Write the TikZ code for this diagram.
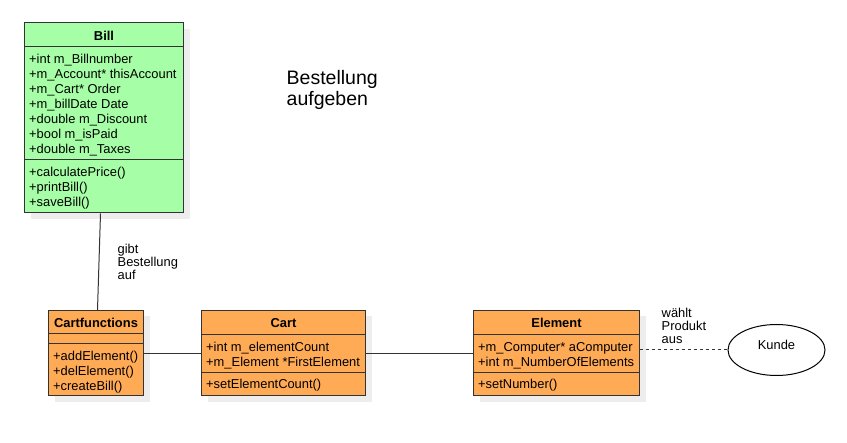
\documentclass[tikz,border=0pt]{standalone}
\usepackage{fontspec}
\setmainfont{Liberation Sans}
\usepackage{tikz}
\usetikzlibrary{shapes.geometric, shadows}

\definecolor{billgreen}{HTML}{A6FFA6}
\definecolor{cartorange}{HTML}{FFAA55}
\definecolor{edgegray}{HTML}{333333}

\tikzstyle{classbox} = [draw=edgegray, line width=1pt, anchor=north west, inner sep=0pt, drop shadow={shadow xshift=6pt, shadow yshift=-6pt, fill=black!7, opacity=1}]
\tikzstyle{classname} = [anchor=north, inner sep=0pt, font=\fontsize{12.9}{15}\selectfont\bfseries]
\tikzstyle{members} = [anchor=north west, inner sep=0pt, align=left, font=\fontsize{12.9}{15}\selectfont]
\tikzstyle{divider} = [draw=edgegray, line width=1pt]
\tikzstyle{assoc} = [draw=edgegray, line width=1pt]
\tikzstyle{edgelabel} = [anchor=north west, inner sep=0pt, align=left, font=\fontsize{12.9}{13}\selectfont]
\tikzstyle{usecase} = [ellipse, draw=black, line width=1pt, fill=white, minimum width=97pt, minimum height=51pt, inner sep=0pt, text height=9pt, text depth=9pt, font=\fontsize{12.9}{15}\selectfont]

\begin{document}
\begin{tikzpicture}[x=1pt, y=-1pt]
\useasboundingbox (0,0) rectangle (847,443);

% Bill
\node[classbox, fill=billgreen, minimum width=159pt, minimum height=190pt] (bill) at (24,22.5) {};
\node[classname] (billname) at ([yshift=-8pt]bill.north) {Bill};
\draw[divider] ([yshift=-24pt]bill.north west) -- ([yshift=-24pt]bill.north east);
\node[members] (billattr) at ([xshift=5pt, yshift=-31.5pt]bill.north west) {+int m\_Billnumber\\+m\_Account* thisAccount\\+m\_Cart* Order\\+m\_billDate Date\\+double m\_Discount\\+bool m\_isPaid\\+double m\_Taxes};
\draw[divider] ([yshift=-137.5pt]bill.north west) -- ([yshift=-137.5pt]bill.north east);
\node[members] (billops) at ([xshift=5pt, yshift=-144.5pt]bill.north west) {+calculatePrice()\\+printBill()\\+saveBill()};

% Cartfunctions
\node[classbox, fill=cartorange, minimum width=95pt, minimum height=85.5pt] (cartfn) at (48,310) {};
\node[classname] (cartfnname) at ([yshift=-8pt]cartfn.north) {Cartfunctions};
\draw[divider] ([yshift=-24pt]cartfn.north west) -- ([yshift=-24pt]cartfn.north east);
\draw[divider] ([yshift=-34pt]cartfn.north west) -- ([yshift=-34pt]cartfn.north east);
\node[members] (cartfnops) at ([xshift=5pt, yshift=-41pt]cartfn.north west) {+addElement()\\+delElement()\\+createBill()};

% Cart
\node[classbox, fill=cartorange, minimum width=164pt, minimum height=85.5pt] (cart) at (201,310) {};
\node[classname] (cartname) at ([yshift=-8pt]cart.north) {Cart};
\draw[divider] ([yshift=-25pt]cart.north west) -- ([yshift=-25pt]cart.north east);
\node[members] (cartattr) at ([xshift=5pt, yshift=-32pt]cart.north west) {+int m\_elementCount\\+m\_Element *FirstElement};
\draw[divider] ([yshift=-63pt]cart.north west) -- ([yshift=-63pt]cart.north east);
\node[members] (cartops) at ([xshift=5pt, yshift=-69pt]cart.north west) {+setElementCount()};

% Element
\node[classbox, fill=cartorange, minimum width=166pt, minimum height=85.5pt] (element) at (473,310) {};
\node[classname] (elementname) at ([yshift=-8pt]element.north) {Element};
\draw[divider] ([yshift=-25pt]element.north west) -- ([yshift=-25pt]element.north east);
\node[members] (elementattr) at ([xshift=5pt, yshift=-32pt]element.north west) {+m\_Computer* aComputer\\+int m\_NumberOfElements};
\draw[divider] ([yshift=-63pt]element.north west) -- ([yshift=-63pt]element.north east);
\node[members] (elementops) at ([xshift=5pt, yshift=-69pt]element.north west) {+setNumber()};

% Kunde
\node[usecase] (kunde) at (776.5,350) {Kunde};

% connectors
\draw[assoc] ([xshift=-3.5pt]bill.south) -- ([xshift=1.5pt]cartfn.north);
\draw[assoc] (cartfn.east) -- (cart.west);
\draw[assoc] (cart.east) -- (element.west);
\draw[assoc, dash pattern=on 3pt off 3pt] (element.east |- kunde.west) -- (kunde.west);

\node[edgelabel] (gibtlabel) at (117.5,244) {gibt\\Bestellung\\auf};
\node[edgelabel] (waehltlabel) at (661.5,308) {wählt\\Produkt\\aus};

\node[anchor=north west, inner sep=0pt, align=left, font=\fontsize{19.5}{21}\selectfont] (title) at (286.5,70) {Bestellung\\aufgeben};
\end{tikzpicture}
\end{document}
